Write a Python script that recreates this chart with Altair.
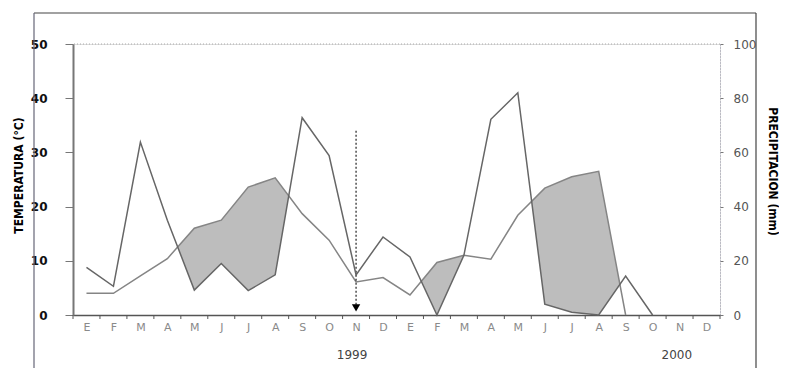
import altair as alt
import pandas as pd

# ---- data ----
month_letters = ["E", "F", "M", "A", "M", "J", "J", "A", "S", "O", "N", "D"] * 2
# temperature (°C), Jan 1999 .. Dec 2000 (None = no data)
temperature = [4.0, 4.0, 7.2, 10.4, 16.0, 17.5, 23.6, 25.3, 18.7, 13.8, 6.1, 6.9,
               3.7, 9.7, 11.0, 10.3, 18.4, 23.4, 25.5, 26.5, 0.0, None, None, None]
# precipitation (mm), Jan 1999 .. Dec 2000
precipitation = [17.6, 10.6, 63.8, 35.0, 9.2, 19.0, 9.0, 14.8, 72.8, 58.8, 14.8, 28.8,
                 21.4, 0.0, 22.0, 72.2, 82.0, 4.0, 1.0, 0.0, 14.4, 0.0, None, None]
years = ["1999", "2000"]
year_pos = [9.85, 21.9]
arrow_month = [10]
arrow_top = [34]

n = len(month_letters)
df = pd.DataFrame({
    "i": list(range(n)),
    "temp": temperature,
    "precip": precipitation,
})

# dry-period polygon (temperature above precipitation/2), with crossings
rows = []
valid = [k for k in range(n) if temperature[k] is not None and precipitation[k] is not None]
last = valid[-1]
for k in range(last):
    t0, t1 = temperature[k], temperature[k + 1]
    p0, p1 = precipitation[k] / 2, precipitation[k + 1] / 2
    d0, d1 = t0 - p0, t1 - p1
    rows.append({"x": k, "top": max(t0, p0), "bot": p0})
    if d0 * d1 < 0:
        f = d0 / (d0 - d1)
        yc = p0 + f * (p1 - p0)
        rows.append({"x": k + f, "top": yc, "bot": yc})
rows.append({"x": last, "top": max(temperature[last], precipitation[last] / 2),
             "bot": precipitation[last] / 2})
area_df = pd.DataFrame(rows)

bounds_df = pd.DataFrame({"b": [k - 0.5 for k in range(n + 1)]})
years_df = pd.DataFrame({"label": years, "pos": year_pos})
arrow_df = pd.DataFrame({"m": arrow_month, "top": arrow_top, "bottom": [1.5], "head": [1.3]})
one = pd.DataFrame({"a": [0]})

W, H = 647, 271
label_expr = "[" + ",".join("'%s'" % m for m in month_letters) + "][datum.value]"


def xq(field):
    return alt.X(field, type="quantitative",
                 scale=alt.Scale(domain=[-0.5, 23.5], nice=False, zero=False),
                 axis=alt.Axis(values=list(range(n)), labelExpr=label_expr, ticks=False,
                               grid=False, title=None, labelFontSize=11,
                               labelColor="#8a8a8a", labelFont="DejaVu Sans",
                               labelPadding=6, domainColor="#555555", domainWidth=1.5))


y_left_scale = alt.Scale(domain=[0, 50], nice=False, zero=True)
y_left_axis = alt.Axis(values=[0, 10, 20, 30, 40, 50], grid=False,
                       title="TEMPERATURA (°C)", titleFont="DejaVu Sans Condensed",
                       titleFontSize=12, titleFontWeight="bold", titleColor="#000000",
                       titleX=-55, titleY=131, titleAngle=-90, titleBaseline="middle",
                       titleAlign="center",
                       labelFontSize=12, labelColor="#111111", labelFont="DejaVu Sans",
                       labelFontWeight="bold", tickSize=8, tickColor="#777777",
                       labelPadding=18, domainColor="#777777", domainWidth=2)


def yl(field):
    return alt.Y(field, type="quantitative", scale=y_left_scale, axis=y_left_axis)


area = alt.Chart(area_df).mark_area(color="#bdbdbd", opacity=1, interpolate="linear").encode(
    x=xq("x"), y=yl("top"), y2="bot")

temp_line = alt.Chart(df).mark_line(color="#858585", strokeWidth=1.5).encode(
    x=xq("i"), y=yl("temp"))

top_rule = alt.Chart(one).mark_rule(color="#aaaaaa", strokeDash=[1, 2], strokeWidth=1).encode(
    y=alt.Y(datum=50, type="quantitative", scale=y_left_scale, axis=y_left_axis))

tick_marks = alt.Chart(bounds_df).mark_rule(color="#555555", strokeWidth=1).encode(
    x=xq("b"), y=alt.value(H), y2=alt.value(H + 4))

arrow_rule = alt.Chart(arrow_df).mark_rule(color="#222222", strokeDash=[2, 2], strokeWidth=1.2).encode(
    x=xq("m"), y=yl("top"), y2="bottom")

arrow_head = alt.Chart(arrow_df).mark_point(shape="triangle-down", filled=True, color="#000000",
                                            size=70, opacity=1).encode(
    x=xq("m"), y=yl("head"))

year_text = alt.Chart(years_df).mark_text(fontSize=12, color="#444444", font="DejaVu Sans",
                                          baseline="middle", align="center").encode(
    x=xq("pos"), y=alt.value(311), text="label:N")

frame_top = alt.Chart(one).mark_rule(color="#444444", strokeWidth=1.2).encode(
    x=alt.value(-39), x2=alt.value(683), y=alt.value(-31))
frame_left = alt.Chart(one).mark_rule(color="#666677", strokeWidth=1.2).encode(
    x=alt.value(-39), y=alt.value(-31), y2=alt.value(330))
frame_right = alt.Chart(one).mark_rule(color="#444444", strokeWidth=1.2).encode(
    x=alt.value(683), y=alt.value(-31), y2=alt.value(330))

left = alt.layer(area, temp_line, top_rule, tick_marks, arrow_rule, arrow_head, year_text,
                 frame_top, frame_left, frame_right)

precip_line = alt.Chart(df).mark_line(color="#666666", strokeWidth=1.5).encode(
    x=xq("i"),
    y=alt.Y("precip:Q", scale=alt.Scale(domain=[0, 100], nice=False),
            axis=alt.Axis(orient="right", values=[0, 20, 40, 60, 80, 100], grid=False,
                          title="PRECIPITACIÓN (mm)", titleFont="DejaVu Sans Condensed",
                          titleFontSize=12, titleFontWeight="bold", titleColor="#000000",
                          titleAngle=90, titleX=52, titleY=127, titleBaseline="middle",
                          titleAlign="center",
                          labelFontSize=12, labelColor="#555555", labelFont="DejaVu Sans",
                          tickSize=3, tickColor="#777777", labelPadding=10,
                          domainColor="#9999aa", domainDash=[1, 2], domainWidth=1)))

chart = alt.layer(left, precip_line).resolve_scale(y="independent").properties(
    width=W, height=H,
    padding={"left": 65, "top": 36, "right": 59, "bottom": 53},
    autosize=alt.AutoSizeParams(type="none"),
).configure_view(strokeWidth=0).configure(background="#ffffff")

chart.save("out.html", embed_options={"renderer": "svg", "actions": False})
